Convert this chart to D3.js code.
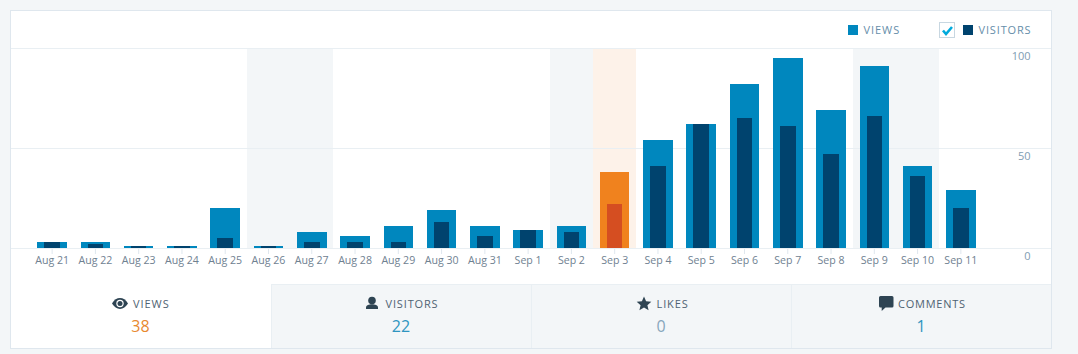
<!DOCTYPE html>
<html><head><meta charset="utf-8">
<script src="https://cdnjs.cloudflare.com/ajax/libs/d3/7.8.5/d3.min.js"></script>
<style>
html,body{margin:0;padding:0;background:#f3f6f8;overflow:hidden}
svg{display:block;font-family:"Open Sans",sans-serif}
</style></head><body><div id="chart"></div>
<script>
const categories=["Aug 21","Aug 22","Aug 23","Aug 24","Aug 25","Aug 26","Aug 27","Aug 28","Aug 29","Aug 30","Aug 31","Sep 1","Sep 2","Sep 3","Sep 4","Sep 5","Sep 6","Sep 7","Sep 8","Sep 9","Sep 10","Sep 11"];
const views=[3,3,1,1,20,1,8,6,11,19,11,9,11,38,54,62,82,95,69,91,41,29];
const visitors=[3,2,1,1,5,1,3,3,3,13,6,9,8,22,41,62,65,61,47,66,36,20];
const weekendDays=["Aug 26","Aug 27","Sep 2","Sep 9","Sep 10"];
const selectedDay="Sep 3";
const yTicks=[0,50,100];
const legendLabels=["VIEWS","VISITORS"];
const tabLabels=["VIEWS","VISITORS","LIKES","COMMENTS"];
const tabValues=[38,22,0,1];

const W=1078,H=354;
const svg=d3.select("#chart").append("svg").attr("width",W).attr("height",H);
const card={l:10.5,r:1051.5,t:10.5,b:348.5};
svg.append("rect").attr("x",card.l).attr("y",card.t).attr("width",card.r-card.l).attr("height",card.b-card.t)
  .attr("fill","#fff").attr("stroke","#dfe7ee");

const x=d3.scaleBand().domain(categories).range([30.5,982.5]).paddingInner(0).paddingOuter(0);
const y=d3.scaleLinear().domain([0,100]).range([248,48]);
const barW=29.5,innerW=15.5;
const cx=d=>x(d)+x.bandwidth()/2;

// backgrounds
svg.append("g").attr("shape-rendering","crispEdges").selectAll("rect").data(categories.filter(d=>weekendDays.includes(d)||d===selectedDay)).join("rect")
  .attr("x",d=>x(d)).attr("width",x.bandwidth()).attr("y",y(100)).attr("height",y(0)-y(100))
  .attr("fill",d=>d===selectedDay?"#fdf2e9":"#f3f6f8");

// grid
svg.append("g").selectAll("line").data(yTicks).join("line")
  .attr("x1",card.l+.5).attr("x2",card.r-.5).attr("y1",d=>y(d)+.5).attr("y2",d=>y(d)+.5)
  .attr("stroke","#e9eff3");

// y labels
svg.append("g").selectAll("text").data(yTicks).join("text")
  .attr("x",1030.5).attr("y",d=>y(d)+11.5).attr("text-anchor","end")
  .attr("font-size",11).attr("fill","#7f9db3").text(d=>d);

// bars
svg.append("g").attr("shape-rendering","crispEdges").selectAll("rect").data(categories).join("rect")
  .attr("x",d=>cx(d)-barW/2).attr("width",barW)
  .attr("y",(d,i)=>y(views[i])).attr("height",(d,i)=>y(0)-y(views[i]))
  .attr("fill",d=>d===selectedDay?"#f0821e":"#0087be");
svg.append("g").attr("shape-rendering","crispEdges").selectAll("rect").data(categories).join("rect")
  .attr("x",d=>cx(d)-innerW/2).attr("width",innerW)
  .attr("y",(d,i)=>y(visitors[i])).attr("height",(d,i)=>y(0)-y(visitors[i]))
  .attr("fill",d=>d===selectedDay?"#d54e21":"#00436e");

// x axis
const xAxis=svg.append("g").attr("transform","translate(0,248)")
  .call(d3.axisBottom(x).tickSize(5).tickPadding(3));
xAxis.select(".domain").remove();
xAxis.selectAll("line").attr("stroke","#dfe7ee").attr("transform","translate(0,1)");
xAxis.selectAll("text").attr("font-size",10.6).attr("font-family",'"Open Sans",sans-serif').attr("fill","#6f8191");

// legend
const lg=svg.append("g");
lg.append("rect").attr("x",848).attr("y",25).attr("width",10).attr("height",10).attr("fill","#0087be");
lg.append("text").attr("x",863.5).attr("y",34).attr("font-size",11).attr("letter-spacing",.95).attr("fill","#668eaa").text(legendLabels[0]);
lg.append("rect").attr("x",939.5).attr("y",22.5).attr("width",15).attr("height",15).attr("fill","#fff").attr("stroke","#c8d7e1");
lg.append("path").attr("d","M943 30.5l3 3.5 6-7").attr("fill","none").attr("stroke","#00aadc").attr("stroke-width",2.6);
lg.append("rect").attr("x",963).attr("y",25).attr("width",10).attr("height",10).attr("fill","#00436e");
lg.append("text").attr("x",978.5).attr("y",34).attr("font-size",11).attr("letter-spacing",.85).attr("fill","#668eaa").text(legendLabels[1]);

// tabs
const tabEdges=[11,271,531,791,1051];
const tabs=svg.append("g");
tabLabels.forEach((t,i)=>{
  if(i>0){
    tabs.append("rect").attr("x",tabEdges[i]).attr("y",284).attr("width",tabEdges[i+1]-tabEdges[i]).attr("height",64)
      .attr("fill","#f3f6f8");
    tabs.append("line").attr("x1",tabEdges[i]+.5).attr("x2",tabEdges[i]+.5).attr("y1",284).attr("y2",348).attr("stroke","#e9eff3");
    tabs.append("line").attr("x1",tabEdges[i]).attr("x2",tabEdges[i+1]).attr("y1",284.5).attr("y2",284.5).attr("stroke","#e9eff3");
  }
});
const ink="#2e4453";
const labelX=[133,385.5,656.5,898];
const icons=[
 g=>{g.append("path").attr("d","M112 303.5c2.2-3.6 4.9-5.4 8-5.4s5.8 1.8 8 5.4c-2.2 3.6-4.9 5.4-8 5.4s-5.8-1.8-8-5.4z").attr("fill",ink);
     g.append("circle").attr("cx",120).attr("cy",303.5).attr("r",3.7).attr("fill","#fff");
     g.append("circle").attr("cx",120).attr("cy",303.5).attr("r",2.5).attr("fill",ink);},
 g=>{g.append("circle").attr("cx",372).attr("cy",300.5).attr("r",3.8).attr("fill",ink);
     g.append("path").attr("d","M366 309v-1.5c0-2 3-3.2 6-3.2s6 1.200 6 3.200v1.500z").attr("fill",ink);},
 g=>{g.append("path").attr("d","M644 296.500l2.100 4.800 5.200.500-3.900 3.400 1.200 5.100-4.600-2.700-4.600 2.700 1.200-5.100-3.900-3.400 5.200-.500z").attr("fill",ink);},
 g=>{g.append("path").attr("d","M880.500 296h11.500a1.500 1.500 0 0 1 1.500 1.500v8.500a1.500 1.500 0 0 1-1.500 1.500h-6.500l-3.800 3.500v-3.500h-1.200a1.500 1.500 0 0 1-1.500-1.500v-8.500a1.500 1.500 0 0 1 1.500-1.500z").attr("fill",ink);}
];
const valueFill=["#e8892f","#2e95c0","#87a6bc","#2e95c0"];
const valueX=[140.5,401,661,921];
const labelSpacing=[.95,.85,.9,.75];
tabLabels.forEach((t,i)=>{
  const g=tabs.append("g");
  icons[i](g);
  g.append("text").attr("x",labelX[i]).attr("y",308).attr("font-size",11).attr("letter-spacing",labelSpacing[i]).attr("fill","#4f6373").text(t);
  g.append("text").attr("x",valueX[i]).attr("y",332).attr("text-anchor","middle").attr("font-size",16).attr("fill",valueFill[i]).text(tabValues[i]);
});
</script></body></html>
